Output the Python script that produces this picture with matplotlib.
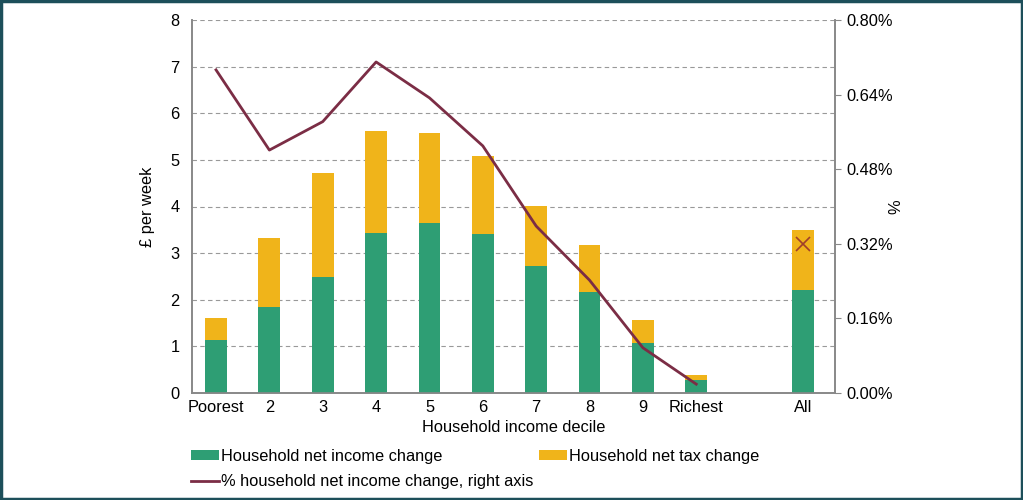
import numpy as np
import matplotlib.pyplot as plt
from matplotlib.patches import Rectangle

plt.rcParams['font.family'] = ['Liberation Sans', 'DejaVu Sans']
plt.rcParams['font.size'] = 11.8

# Données
deciles = ['Poorest', '2', '3', '4', '5', '6', '7', '8', '9', 'Richest', 'All']
income_change = [1.14, 1.85, 2.49, 3.43, 3.65, 3.41, 2.73, 2.17, 1.07, 0.28, 2.21]
tax_change = [0.47, 1.48, 2.23, 2.19, 1.93, 1.68, 1.28, 1.01, 0.50, 0.11, 1.29]
pct_change = [0.693, 0.521, 0.582, 0.710, 0.633, 0.530, 0.358, 0.242, 0.097, 0.019]
pct_all = 0.32

green = '#2e9e74'
orange = '#f0b41a'
maroon = '#7b2d45'

pos = list(range(10)) + [11]

fig = plt.figure(figsize=(10.23, 5.0), dpi=100)
ax = fig.add_axes([0.1877, 0.214, 0.6285, 0.746])
ax2 = ax.twinx()

ax.bar(pos, income_change, width=0.41, color=green, zorder=3,
       label='Household net income change')
ax.bar(pos, tax_change, width=0.41, bottom=income_change, color=orange, zorder=3,
       label='Household net tax change')

ax.set_ylim(0, 8)
ax.set_xlim(-0.45, 11.6)
ax.set_yticks(range(9))
ax.yaxis.grid(True, linestyle=(0, (4, 3)), color='#999999', linewidth=0.8)
ax.set_axisbelow(True)
ax.set_xticks(pos)
ax.set_xticklabels(deciles)
ax.tick_params(axis='x', length=0, pad=5)
ax.tick_params(axis='y', length=0, pad=9)
ax.set_ylabel('£ per week', labelpad=11)
ax.set_xlabel('Household income decile', labelpad=4)

ax2.plot(range(10), pct_change, color=maroon, linewidth=2,
         label='% household net income change, right axis')
ax2.plot([11], [pct_all], marker='x', color='#a0402a', markersize=10,
         markeredgewidth=1.2, linestyle='none')
ax2.set_ylim(0, 0.8)
ax2.set_yticks(np.arange(0, 0.81, 0.16))
ax2.set_yticklabels(['%.2f%%' % v for v in np.arange(0, 0.81, 0.16)])
ax2.tick_params(axis='y', direction='out', length=4, color='#888888', pad=4)
ax2.set_ylabel('%', labelpad=-3)

for a in (ax, ax2):
    a.spines['top'].set_visible(False)
    for s in ['left', 'right', 'bottom']:
        a.spines[s].set_color('#888888')
        a.spines[s].set_linewidth(1.2)

h1, l1 = ax.get_legend_handles_labels()
h2, l2 = ax2.get_legend_handles_labels()
handles = [h1[0], h2[0], h1[1]]
labels = [l1[0], l2[0], l1[1]]
fig.legend(handles, labels, loc='upper left', bbox_to_anchor=(0.172, 0.132),
           ncol=2, frameon=False, fontsize=11.8, handlelength=1.7, handleheight=0.6,
           columnspacing=0.35, handletextpad=0.15, labelspacing=0.65)

fig.patches.append(Rectangle((0.001, 0.002), 0.998, 0.996, transform=fig.transFigure,
                             fill=False, edgecolor='#1d4f5a', linewidth=2.5))

fig.savefig('out.png', dpi=100)
